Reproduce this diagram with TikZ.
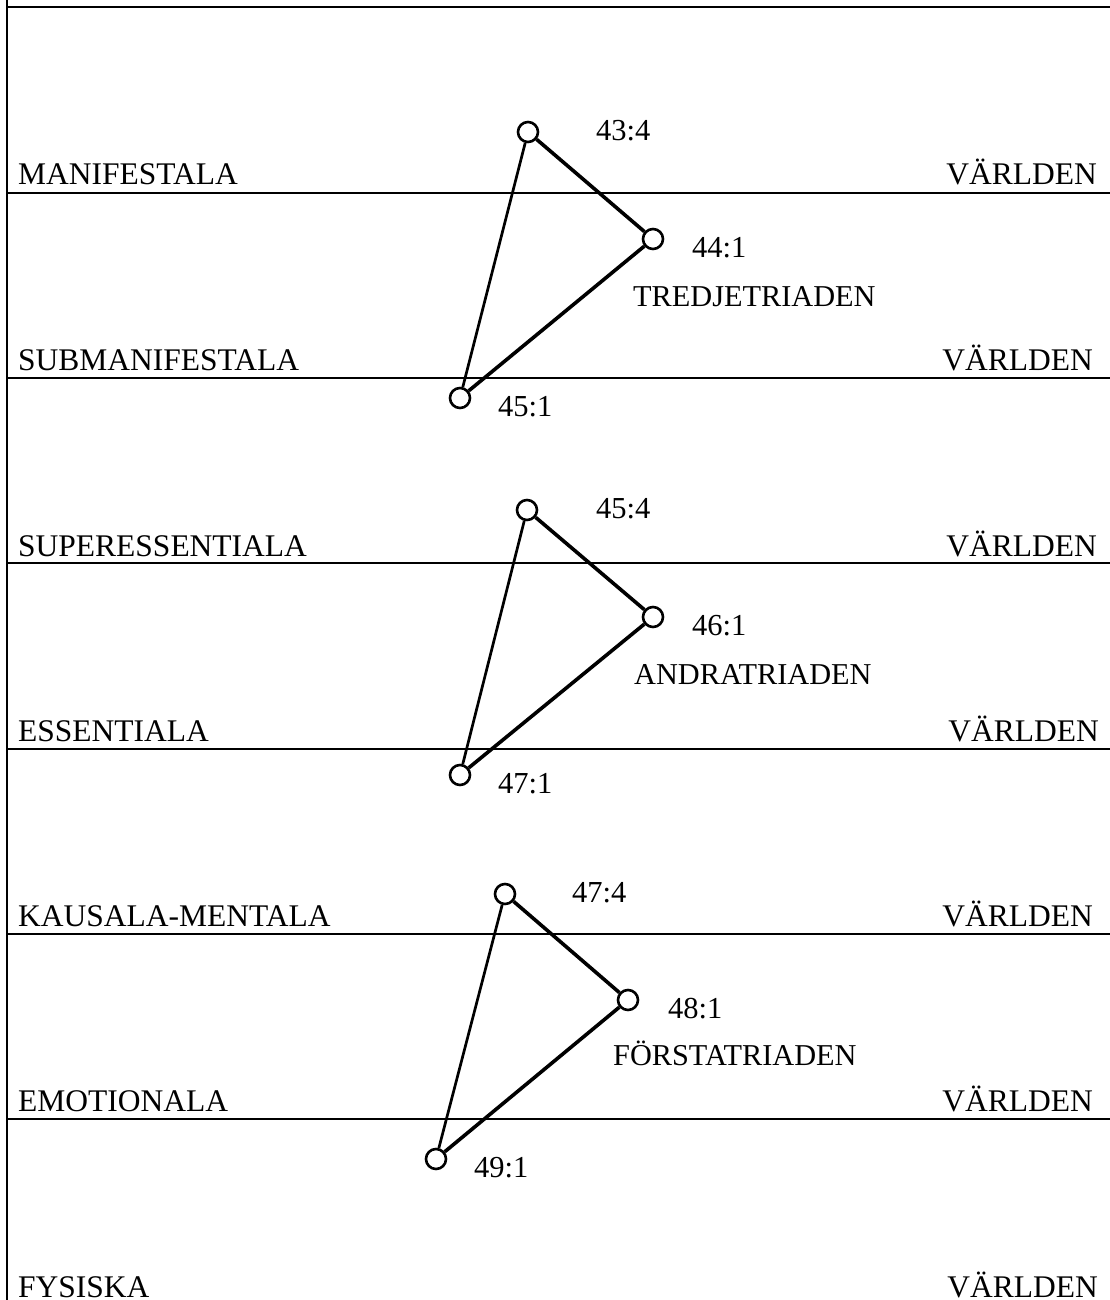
\documentclass[tikz,border=0pt]{standalone}
\usepackage{fontspec}
\setmainfont{Liberation Serif}
\begin{document}
\begin{tikzpicture}[x=1pt,y=-1pt,
  lbl/.style={inner sep=0pt,font=\fontsize{31.5}{36}\selectfont},
  lleft/.style={lbl,anchor=base west},
  lright/.style={lbl,anchor=base east},
  num/.style={lbl,anchor=base west,font=\fontsize{30.5}{36}\selectfont},
  triad/.style={lbl,anchor=base west,font=\fontsize{30.3}{36}\selectfont},
  pt/.style={circle,draw,line width=2.6pt,minimum size=20pt,inner sep=0pt,fill=white},
  rule/.style={line width=2.8pt},
  edge/.style={line width=3.6pt},
  thinedge/.style={line width=2.7pt}]
\useasboundingbox (0,0) rectangle (1110,1300);
% frame
\coordinate (vtop) at (7,0);
\coordinate (vbot) at (7,1300);
\draw[rule] (vtop) -- (vbot);
\foreach \y [count=\i] in {7,193,378,563,749,934,1119}{
  \coordinate (hl\i) at (7,\y);
  \coordinate (hr\i) at (1110,\y);
  \draw[rule] (hl\i) -- (hr\i);
}
% left labels
\node[lleft] (l1) at (18,185) {MANIFESTALA};
\node[lleft] (l2) at (18,370) {SUBMANIFESTALA};
\node[lleft] (l3) at (18,556) {SUPERESSENTIALA};
\node[lleft] (l4) at (18,741) {ESSENTIALA};
\node[lleft] (l5) at (18,926) {KAUSALA-MENTALA};
\node[lleft] (l6) at (18,1111) {EMOTIONALA};
\node[lleft,text depth=0pt] (l7) at (18,1297) {FYSISKA};
% right labels
\node[lright] (r1) at (1097,185) {VÄRLDEN};
\node[lright] (r2) at (1093,370) {VÄRLDEN};
\node[lright] (r3) at (1097,556) {VÄRLDEN};
\node[lright] (r4) at (1099,741) {VÄRLDEN};
\node[lright] (r5) at (1093,926) {VÄRLDEN};
\node[lright] (r6) at (1093,1111) {VÄRLDEN};
\node[lright,text depth=0pt] (r7) at (1098,1297) {VÄRLDEN};
% triangle 1
\node[pt] (a1) at (528,132) {};
\node[pt] (b1) at (653,239) {};
\node[pt] (c1) at (460,398) {};
\draw[edge] (a1) -- (b1);
\draw[edge] (b1) -- (c1);
\draw[thinedge] (a1) -- (c1);
\node[num] (n434) at (596,141) {43:4};
\node[num] (n441) at (692,257) {44:1};
\node[num] (n451) at (498,416) {45:1};
\node[triad] (t3) at (633,306) {TREDJETRIADEN};
% triangle 2
\node[pt] (a2) at (527,510) {};
\node[pt] (b2) at (653,617) {};
\node[pt] (c2) at (460,775) {};
\draw[edge] (a2) -- (b2);
\draw[edge] (b2) -- (c2);
\draw[thinedge] (a2) -- (c2);
\node[num] (n454) at (596,518) {45:4};
\node[num] (n461) at (692,635) {46:1};
\node[num] (n471) at (498,793) {47:1};
\node[triad] (t2) at (634,684) {ANDRATRIADEN};
% triangle 3
\node[pt] (a3) at (505,894) {};
\node[pt] (b3) at (628,1000) {};
\node[pt] (c3) at (436,1159) {};
\draw[edge] (a3) -- (b3);
\draw[edge] (b3) -- (c3);
\draw[thinedge] (a3) -- (c3);
\node[num] (n474) at (572,902) {47:4};
\node[num] (n481) at (668,1018) {48:1};
\node[num] (n491) at (474,1177) {49:1};
\node[triad] (t1) at (613,1065) {FÖRSTATRIADEN};
\end{tikzpicture}
\end{document}
